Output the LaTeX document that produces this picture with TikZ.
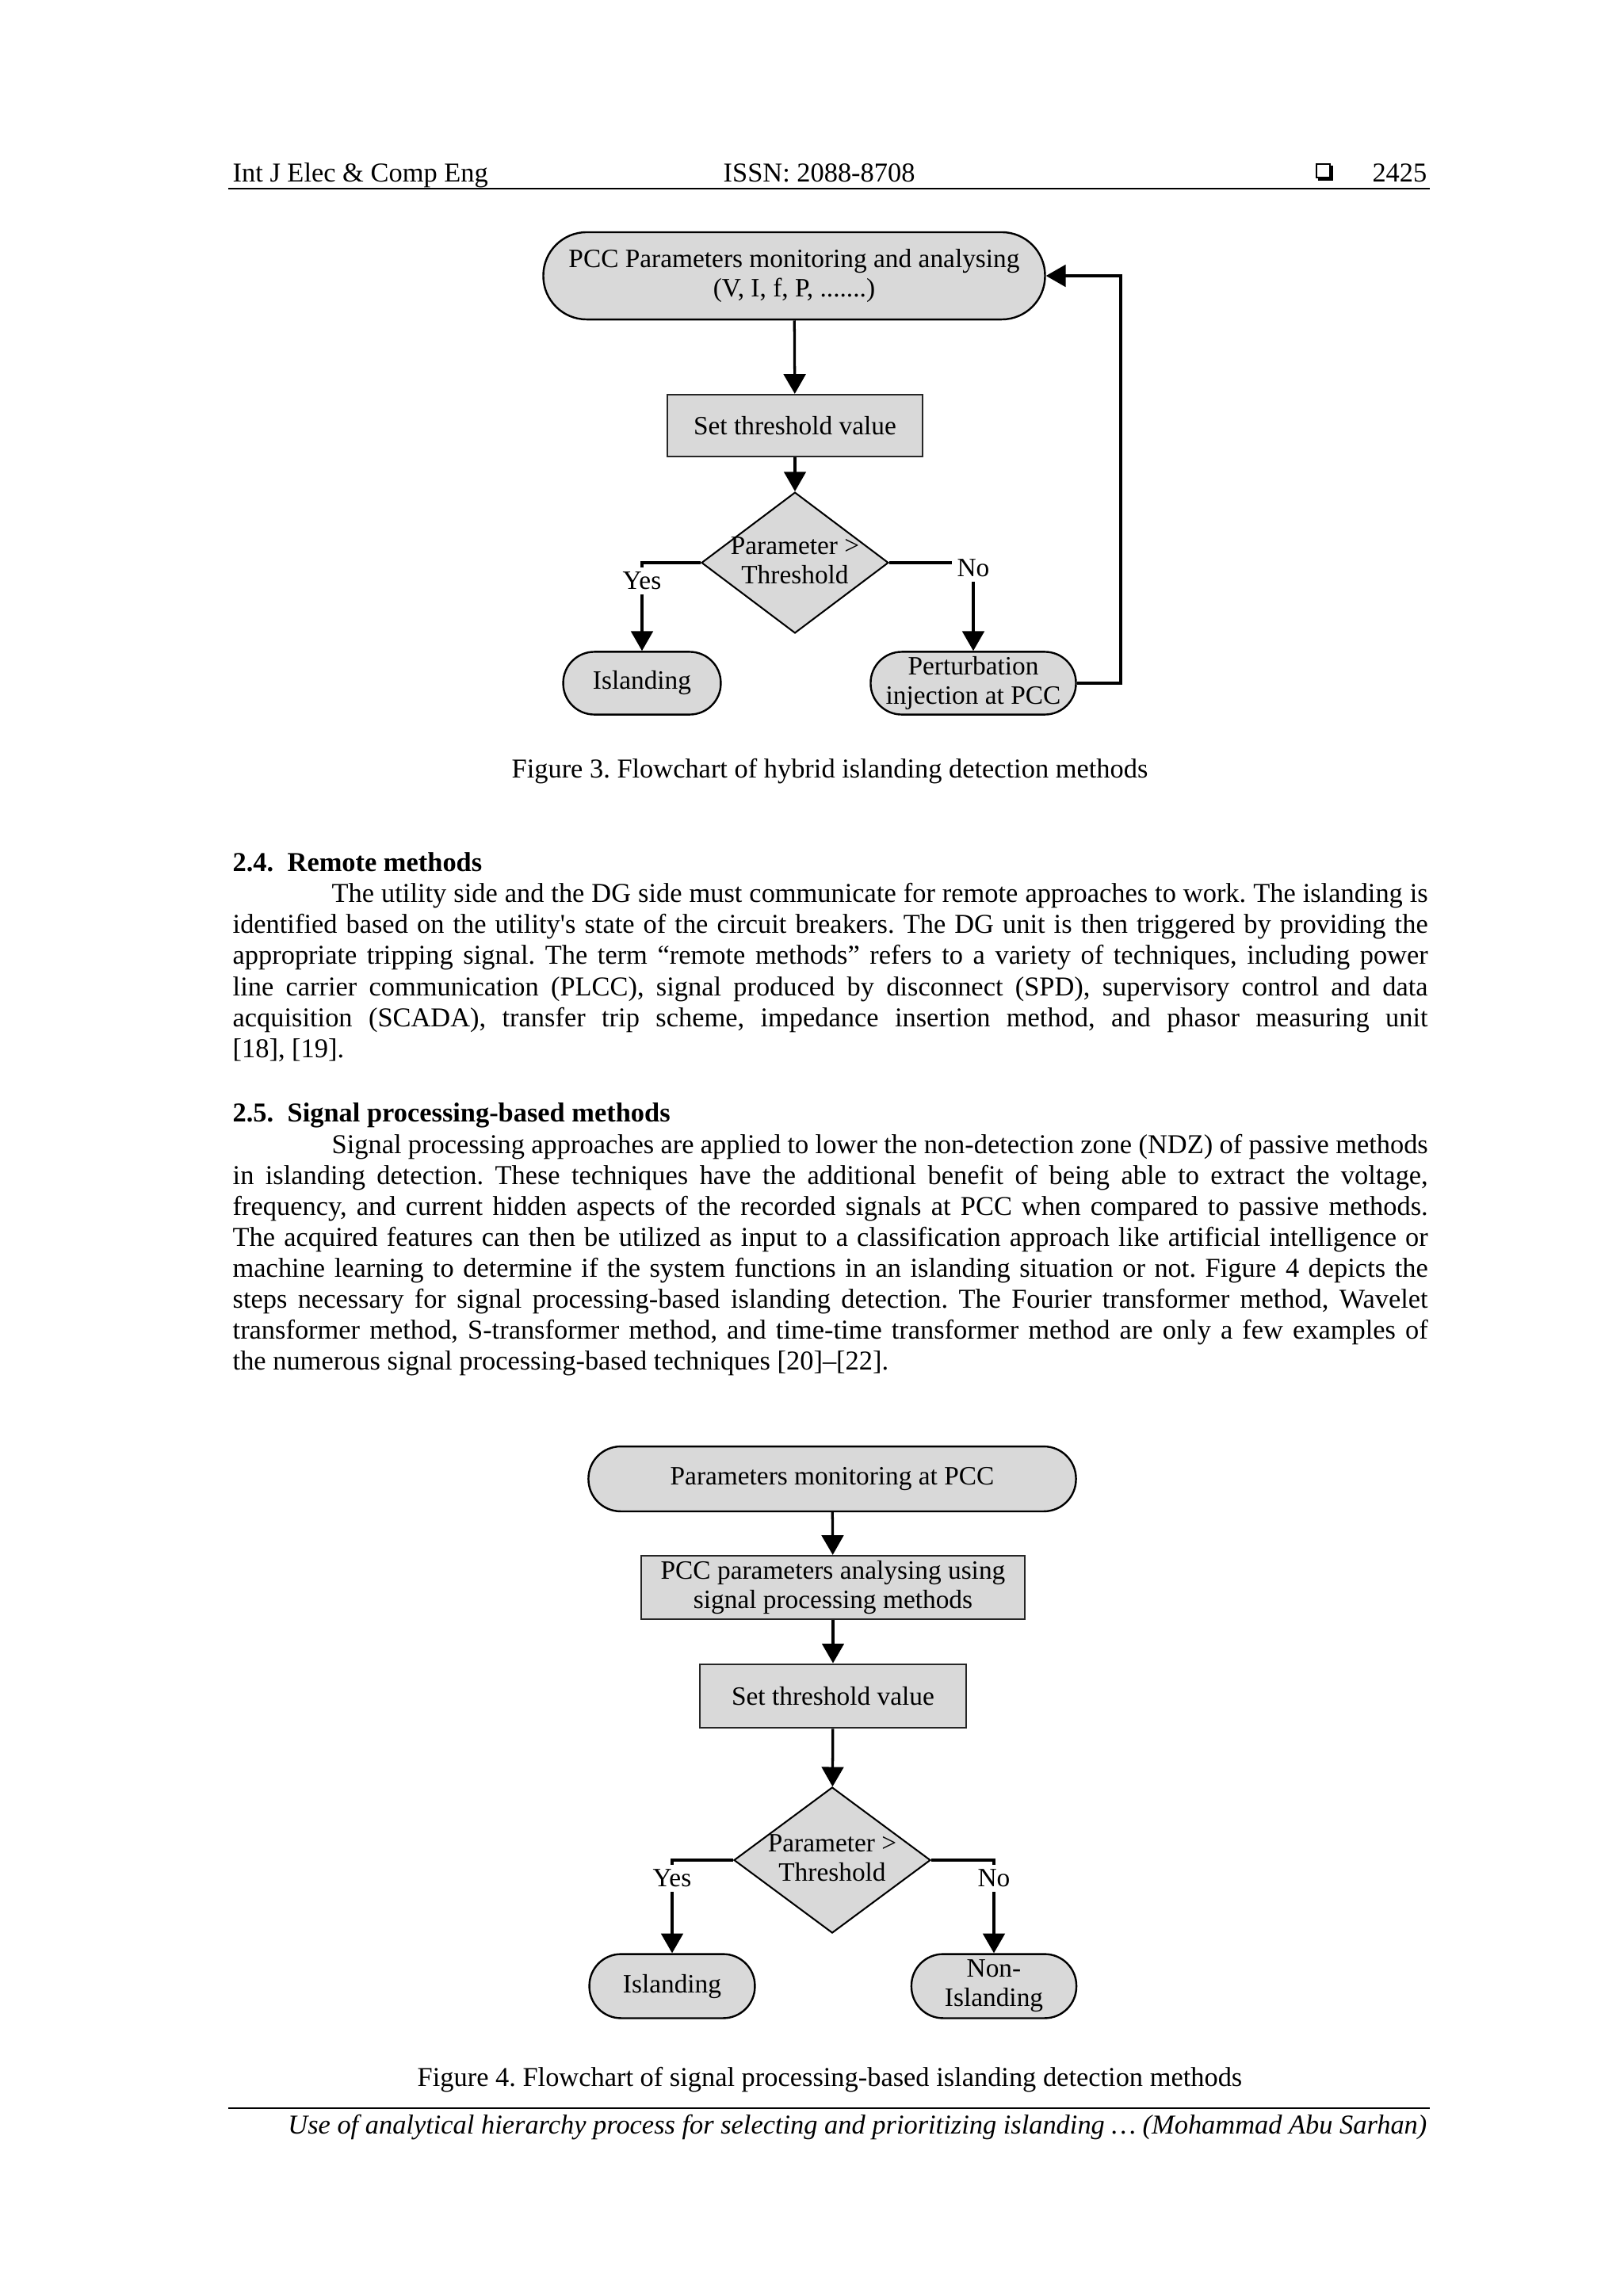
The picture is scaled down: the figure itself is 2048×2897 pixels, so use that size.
\documentclass[tikz,border=0pt]{standalone}
\usepackage{fontspec}
\setmainfont{Liberation Serif}
\usetikzlibrary{shapes.geometric,arrows.meta}
\definecolor{boxgray}{RGB}{217,217,217}
\newcommand{\figfont}{\fontsize{9.7}{10.8}\selectfont}
\newcommand{\bodyfont}{\fontsize{10}{11.4}\selectfont}
\newcommand{\jline}[2]{\makebox[#1][s]{#2}}
\frenchspacing
\begin{document}
\begin{tikzpicture}[x=0.29066pt,y=-0.29066pt,
  term/.style={draw, line width=0.7pt, fill=boxgray, inner sep=0pt, font=\figfont, align=center},
  proc/.style={draw=black!85, line width=0.6pt, fill=boxgray, inner sep=0pt, font=\figfont, align=center},
  dec/.style={diamond, draw, fill=boxgray, line width=0.6pt, inner sep=0pt},
  conn/.style={line width=0.95pt, -{Triangle[length=7.2pt,width=8pt]}},
  lab/.style={fill=white, inner sep=1.8pt, font=\figfont},
  body/.style={anchor=base west, inner sep=0pt, font=\bodyfont},
  head/.style={anchor=base west, inner sep=0pt, font=\bodyfont\bfseries},
  rulestyle/.style={line width=0.85pt}
]
\fill[white] (0,0) rectangle (2048,2897);
\useasboundingbox (0,0) rectangle (2048,2897);

% ---------- header ----------
\node[body] (h1) at (293,229) {Int J Elec \& Comp Eng};
\node[body] (h2) at (912,229) {ISSN: 2088-8708};
\node[anchor=base east, inner sep=0pt, font=\bodyfont] (h3) at (1801,229) {2425};
\draw[line width=0.5pt] (1661,207) rectangle (1678,224);
\fill (1678,209) rectangle (1681.5,227.5);
\fill (1663,224) rectangle (1681.5,227.5);
\draw[rulestyle] (288,238) -- (1804,238);

% ---------- Figure 3 ----------
\node[term, minimum width=184pt, minimum height=32pt, rounded corners=15.9pt] (top3) at (1002,348)
  {PCC Parameters monitoring and analysing\\(V, I, f, P, .......)};
\node[proc, minimum width=93.6pt, minimum height=22.7pt] (thr3) at (1003,537) {Set threshold value};
\node[dec, minimum width=68.6pt, minimum height=51.7pt] (d3) at (1003,710) {};
\node[font=\figfont, align=center, inner sep=0pt] (d3t) at (1003,707) {Parameter >\\Threshold};
\node[term, minimum width=57.8pt, minimum height=23pt, rounded corners=11.4pt] (isl3) at (810,862) {Islanding};
\node[term, minimum width=75.3pt, minimum height=23pt, rounded corners=11.4pt] (pert3) at (1228,862)
  {Perturbation\\injection at PCC};
\coordinate (fb3) at (1414,348);

\draw[conn] (top3) -- (thr3);
\draw[conn] (thr3) -- (d3);
\draw[conn] (d3.west) -| (isl3.north);
\draw[conn] (d3.east) -| (pert3.north);
\draw[conn] (pert3.east) -| (fb3) -- (top3.east);
\node[lab] (yes3) at (810,733) {Yes};
\node[lab] (no3) at (1228,717) {No};

\node[anchor=base, inner sep=0pt, font=\bodyfont] (cap3) at (1047,981) {Figure 3. Flowchart of hybrid islanding detection methods};

% ---------- Section 2.4 ----------
\node[head] (s24n) at (293,1099) {2.4.};
\node[head] (s24t) at (362,1099) {Remote methods};
\node[body] (p1a) at (418,1138) {\jline{402pt}{The utility side and the DG side must communicate for remote approaches to work. The islanding is}};
\node[body] (p1b) at (293,1177) {\jline{438.3pt}{identified based on the utility\textquotesingle s state of the circuit breakers. The DG unit is then triggered by providing the}};
\node[body] (p1c) at (293,1216) {\jline{438.3pt}{appropriate tripping signal. The term “remote methods” refers to a variety of techniques, including power}};
\node[body] (p1d) at (293,1256) {\jline{438.3pt}{line carrier communication (PLCC), signal produced by disconnect (SPD), supervisory control and data}};
\node[body] (p1e) at (293,1295) {\jline{438.3pt}{acquisition (SCADA), transfer trip scheme, impedance insertion method, and phasor measuring unit}};
\node[body] (p1f) at (293,1334) {[18], [19].};

% ---------- Section 2.5 ----------
\node[head] (s25n) at (293,1415) {2.5.};
\node[head] (s25t) at (362,1415) {Signal processing-based methods};
\node[body] (p2a) at (418,1455) {\jline{402pt}{Signal processing approaches are applied to lower the non-detection zone (NDZ) of passive methods}};
\node[body] (p2b) at (293,1494) {\jline{438.3pt}{in islanding detection. These techniques have the additional benefit of being able to extract the voltage,}};
\node[body] (p2c) at (293,1533) {\jline{438.3pt}{frequency, and current hidden aspects of the recorded signals at PCC when compared to passive methods.}};
\node[body] (p2d) at (293,1572) {\jline{438.3pt}{The acquired features can then be utilized as input to a classification approach like artificial intelligence or}};
\node[body] (p2e) at (293,1611) {\jline{438.3pt}{machine learning to determine if the system functions in an islanding situation or not. Figure 4 depicts the}};
\node[body] (p2f) at (293,1650) {\jline{438.3pt}{steps necessary for signal processing-based islanding detection. The Fourier transformer method, Wavelet}};
\node[body] (p2g) at (293,1689) {\jline{438.3pt}{transformer method, S-transformer method, and time-time transformer method are only a few examples of}};
\node[body] (p2h) at (293,1728) {the numerous signal processing-based techniques [20]–[22].};

% ---------- Figure 4 ----------
\node[term, minimum width=178.8pt, minimum height=23.8pt, rounded corners=11.8pt] (top4) at (1050,1866) {Parameters monitoring at PCC};
\node[proc, minimum width=140.7pt, minimum height=23.3pt] (ana4) at (1051,2003) {PCC parameters analysing using\\signal processing methods};
\node[proc, minimum width=97.7pt, minimum height=23.5pt] (thr4) at (1051,2140) {Set threshold value};
\node[dec, minimum width=72.1pt, minimum height=53.5pt] (d4) at (1050,2347) {};
\node[font=\figfont, align=center, inner sep=0pt] (d4t) at (1050,2344) {Parameter >\\Threshold};
\node[term, minimum width=60.7pt, minimum height=23.5pt, rounded corners=11.6pt] (isl4) at (848,2506) {Islanding};
\node[term, minimum width=60.5pt, minimum height=23.5pt, rounded corners=11.6pt] (non4) at (1254,2506) {Non-\\Islanding};

\draw[conn] (top4) -- (ana4);
\draw[conn] (ana4) -- (thr4);
\draw[conn] (thr4) -- (d4);
\draw[conn] (d4.west) -| (isl4.north);
\draw[conn] (d4.east) -| (non4.north);
\node[lab] (yes4) at (848,2370) {Yes};
\node[lab] (no4) at (1254,2370) {No};

\node[anchor=base, inner sep=0pt, font=\bodyfont] (cap4) at (1047,2632) {Figure 4. Flowchart of signal processing-based islanding detection methods};

% ---------- footer ----------
\draw[rulestyle] (288,2660) -- (1804,2660);
\node[anchor=base east, inner sep=0pt, font=\bodyfont\itshape] (foot) at (1801,2692)
  {Use of analytical hierarchy process for selecting and prioritizing islanding … (Mohammad Abu Sarhan)};
\end{tikzpicture}
\end{document}
